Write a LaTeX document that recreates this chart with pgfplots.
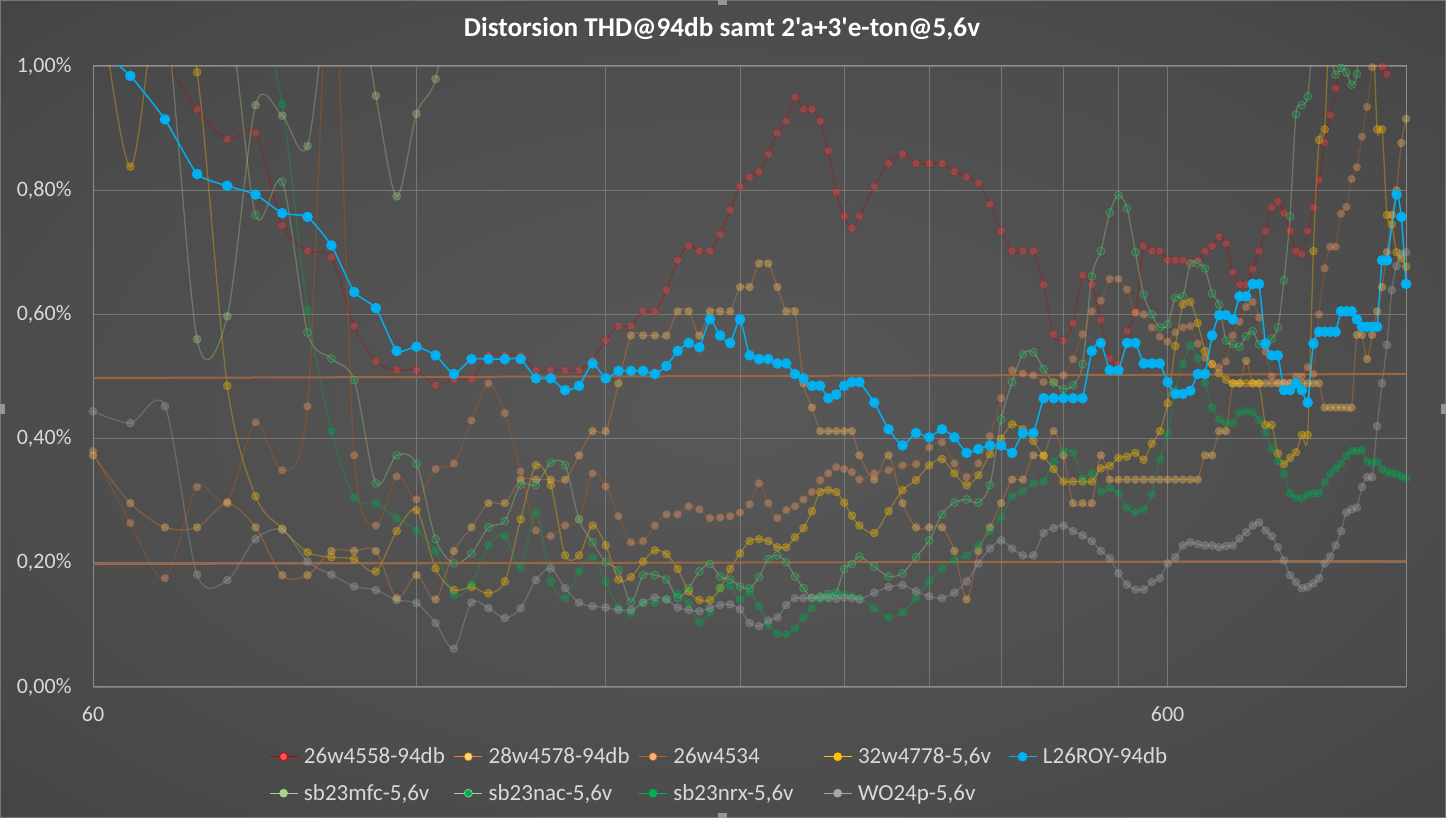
\documentclass[border=0pt]{standalone}
\usepackage{fontspec}
\setmainfont{Carlito}[Ligatures=TeXOff]
\usepackage{pgfplots}
\pgfplotsset{compat=1.18}

% background
\definecolor{bgA}{RGB}{88,88,88}
\definecolor{bgB}{RGB}{76,76,76}
\definecolor{bgC}{RGB}{61,61,61}
\definecolor{bgD}{RGB}{51,51,51}
\definecolor{bgE}{RGB}{38,38,38}
\pgfdeclareradialshading{chartbg}{\pgfpoint{0bp}{0bp}}{%
  color(0bp)=(bgA); color(25bp)=(bgB); color(46bp)=(bgC); color(57bp)=(bgD); color(72bp)=(bgE)}

\definecolor{gridc}{RGB}{118,118,118}
\definecolor{framec}{RGB}{140,140,140}
\definecolor{labelc}{RGB}{217,217,217}
\definecolor{trendc}{RGB}{155,102,66}
\definecolor{handlec}{RGB}{150,150,150}

% series colours (line, marker)
\definecolor{redL}{RGB}{192,0,0}      \definecolor{redM}{RGB}{255,80,80}
\definecolor{yelL}{RGB}{237,125,49}   \definecolor{yelM}{RGB}{255,217,102}
\definecolor{orgL}{RGB}{197,90,17}    \definecolor{orgM}{RGB}{244,177,131}
\definecolor{golL}{RGB}{255,192,0}    \definecolor{golM}{RGB}{255,192,0}
\definecolor{blueL}{RGB}{0,176,240}
\definecolor{mfcL}{RGB}{169,209,142}  \definecolor{mfcM}{RGB}{169,209,142}
\definecolor{nacL}{RGB}{169,209,142}  \definecolor{nacM}{RGB}{0,176,80}
\definecolor{nrxL}{RGB}{0,176,80}     \definecolor{nrxM}{RGB}{0,176,80}
\definecolor{woL}{RGB}{166,166,166}   \definecolor{woM}{RGB}{166,166,166}

\pgfplotsset{
  faded/.style 2 args={draw=#1, line width=1.3pt, smooth, tension=0.5,
    mark=*, mark size=4pt, mark options={fill=#2, draw=#1, line width=0.6pt, solid},
    opacity=0.33},
  roy/.style={draw=blueL, line width=1.5pt, smooth, tension=0.3,
    mark=*, mark size=4.5pt, mark options={fill=blueL, draw=blueL}},
}

\begin{document}
\begin{tikzpicture}[x=1pt,y=1pt]
\useasboundingbox (0,0) rectangle (1446,818);
\shade[shading=chartbg] (0,0) rectangle (1446,818);
\draw[draw=gridc, line width=1pt] (0.5,0.5) rectangle (1445.5,817.5);
\fill[handlec] (0,404) rectangle (5,414);
\fill[handlec] (1441,404) rectangle (1446,414);
\fill[handlec] (718,813) rectangle (727,818);
\fill[handlec] (718,0) rectangle (727,5);

\node[font=\fontsize{27.2}{31}\selectfont\bfseries, text=white] at (722,789)
  {Distorsion THD@94db samt 2'a+3'e-ton@5,6v};

\begin{axis}[
  at={(93pt,131pt)}, anchor=south west,
  scale only axis, width=1313pt, height=621pt,
  xmode=log, xmin=60, xmax=1000, ymin=0, ymax=1,
  xtick={60,600}, xticklabels={60,600},
  minor xtick={120,180,240,300,360,420,480,540},
  ytick={0,0.2,0.4,0.6,0.8,1.0},
  yticklabel={\pgfmathprintnumber[fixed,fixed zerofill,precision=2,use comma]{\tick}\%},
  /pgf/number format/assume math mode=true,
  xmajorgrids, xminorgrids, ymajorgrids,
  grid style={draw=gridc, line width=0.9pt},
  minor grid style={draw=gridc, line width=0.9pt},
  major grid style={draw=gridc, line width=0.9pt},
  axis line style={draw=framec, line width=1pt},
  major tick length=0pt, minor tick length=0pt,
  tick style={draw=none},
  ticklabel style={font=\fontsize{22}{24}\selectfont, text=labelc},
  yticklabel style={xshift=-18pt},
  xticklabel style={yshift=-16pt},
  legend columns=5,
  legend cell align=left,
  legend style={at={(0.1340,-0.0934)}, anchor=north west, draw=none, fill=none,
    text=labelc, font=\fontsize{23}{26}\selectfont, inner sep=0pt, outer sep=0pt,
    nodes={inner xsep=0pt, inner ysep=3pt}, row sep=13pt},
  legend image code/.code={\draw[mark repeat=2, mark phase=2, #1]
    plot coordinates {(0pt,0pt) (14pt,0pt) (28pt,0pt)};},
  legend image post style={opacity=1, mark size=4pt, smooth=false},
]

% 26w4558-94db
\addplot[faded={redL}{redM}] coordinates {
(60,1.30)(65,1.20)(70,1.02)(75,0.930)(80,0.882)(85,0.892)(90,0.743)(95,0.702)(100,0.692)(105,0.581)
(110,0.524)(115,0.510)(120,0.510)(125,0.486)(130,0.496)(135,0.496)(140,0.534)(145,0.534)(150,0.534)
(155,0.510)(160,0.510)(165,0.510)(170,0.510)(175,0.527)(180,0.558)(185,0.581)(190,0.581)(195,0.605)
(200,0.605)(205,0.639)(210,0.687)(215,0.710)(220,0.702)(225,0.702)(230,0.729)(235,0.768)(240,0.806)
(245,0.821)(250,0.830)(255,0.858)(260,0.892)(265,0.911)(270,0.950)(275,0.930)(280,0.930)(285,0.911)
(290,0.863)(295,0.797)(300,0.758)(305,0.739)(310,0.758)(320,0.806)(330,0.843)(340,0.858)(350,0.843)
(360,0.843)(370,0.843)(380,0.830)(390,0.821)(400,0.811)(410,0.777)(420,0.734)(430,0.702)(440,0.702)
(450,0.702)(460,0.648)(470,0.568)(480,0.558)(490,0.586)(500,0.663)(510,0.648)(520,0.591)(530,0.529)
(540,0.520)(550,0.573)(560,0.603)(570,0.710)(580,0.702)(590,0.702)(600,0.687)(610,0.687)(620,0.687)
(630,0.683)(640,0.687)(650,0.702)(660,0.710)(670,0.725)(680,0.714)(690,0.668)(700,0.648)(710,0.648)
(720,0.673)(730,0.702)(740,0.734)(750,0.772)(760,0.782)(770,0.763)(780,0.734)(790,0.702)(800,0.697)
(810,0.734)(820,0.772)(830,0.816)(840,0.877)(850,0.921)(860,0.964)(870,1.05)(880,1.10)(890,1.10)
(900,1.10)(910,1.10)(920,1.10)(930,1.05)(940,1.02)(950,0.999)(960,0.987)(970,1.05)(980,1.10)
(990,1.10)(1000,1.10)};
\addlegendentry{\makebox[155.4pt][l]{\hspace{5.7pt}26w4558-94db}}

% 28w4578-94db
\addplot[faded={yelL}{yelM}] coordinates {
(60,0.373)(65,0.296)(70,0.257)(75,0.257)(80,0.296)(85,0.257)(90,0.180)(95,0.180)(100,0.219)(105,0.219)
(110,0.219)(115,0.143)(120,0.180)(125,0.141)(130,0.219)(135,0.257)(140,0.296)(145,0.296)(150,0.334)
(155,0.334)(160,0.334)(165,0.334)(170,0.373)(175,0.412)(180,0.412)(185,0.489)(190,0.566)(195,0.566)
(200,0.566)(205,0.566)(210,0.605)(215,0.605)(220,0.566)(225,0.605)(230,0.605)(235,0.605)(240,0.644)
(245,0.644)(250,0.682)(255,0.682)(260,0.644)(265,0.605)(270,0.605)(275,0.489)(280,0.450)(285,0.412)
(290,0.412)(295,0.412)(300,0.412)(305,0.412)(310,0.373)(320,0.334)(330,0.373)(340,0.296)(350,0.257)
(360,0.257)(370,0.257)(380,0.219)(390,0.141)(400,0.219)(410,0.257)(420,0.296)(430,0.334)(440,0.334)
(450,0.373)(460,0.373)(470,0.412)(480,0.373)(490,0.296)(500,0.296)(510,0.296)(520,0.373)(530,0.334)
(540,0.334)(550,0.334)(560,0.334)(570,0.334)(580,0.334)(590,0.334)(600,0.334)(610,0.334)(620,0.334)
(630,0.334)(640,0.334)(650,0.373)(660,0.373)(670,0.412)(680,0.412)(690,0.489)(700,0.489)(710,0.525)
(720,0.489)(730,0.489)(740,0.489)(750,0.489)(760,0.489)(770,0.489)(780,0.489)(790,0.489)(800,0.489)
(810,0.489)(820,0.489)(830,0.489)(840,0.450)(850,0.450)(860,0.450)(870,0.450)(880,0.450)(890,0.450)
(900,0.567)(910,0.567)(920,0.528)(930,0.567)(940,0.605)(950,0.644)(960,0.700)(970,0.760)(980,0.800)
(990,0.876)(1000,0.915)};
\addlegendentry{\makebox[155.4pt][l]{\hspace{5.7pt}28w4578-94db}}

% 26w4534
\addplot[faded={orgL}{orgM}] coordinates {
(60,0.380)(65,0.264)(70,0.175)(75,0.322)(80,0.298)(85,0.426)(90,0.349)(95,0.452)(100,1.20)(105,0.373)
(110,0.260)(115,0.339)(120,0.302)(125,0.351)(130,0.360)(135,0.429)(140,0.489)(145,0.441)(150,0.347)
(155,0.252)(160,0.243)(165,0.260)(170,0.270)(175,0.344)(180,0.323)(185,0.275)(190,0.233)(195,0.235)
(200,0.260)(205,0.278)(210,0.278)(215,0.291)(220,0.286)(225,0.272)(230,0.273)(235,0.275)(240,0.281)
(245,0.294)(250,0.328)(255,0.296)(260,0.272)(265,0.285)(270,0.291)(275,0.302)(280,0.314)(285,0.333)
(290,0.344)(295,0.354)(300,0.351)(305,0.346)(310,0.334)(320,0.344)(330,0.349)(340,0.357)(350,0.359)
(360,0.386)(370,0.394)(380,0.360)(390,0.338)(400,0.360)(410,0.404)(420,0.465)(430,0.510)(440,0.505)
(450,0.502)(460,0.491)(470,0.491)(480,0.502)(490,0.528)(500,0.568)(510,0.605)(520,0.622)(530,0.657)
(540,0.657)(550,0.640)(560,0.603)(570,0.600)(580,0.579)(590,0.564)(600,0.556)(610,0.571)(620,0.579)
(630,0.581)(640,0.553)(650,0.530)(660,0.520)(670,0.515)(680,0.524)(690,0.566)(700,0.588)(710,0.612)
(720,0.620)(730,0.595)(740,0.540)(750,0.500)(760,0.490)(770,0.490)(780,0.490)(790,0.500)(800,0.500)
(810,0.515)(820,0.504)(830,0.600)(840,0.674)(850,0.709)(860,0.709)(870,0.762)(880,0.773)(890,0.818)
(900,0.837)(910,0.886)(920,0.934)(930,0.998)(940,1.10)(950,1.10)(960,1.10)(970,1.10)(980,1.10)
(990,1.10)(1000,1.10)};
\addlegendentry{\makebox[155.4pt][l]{\hspace{5.7pt}26w4534}}

% 32w4778-5,6v
\addplot[faded={golL}{golM}] coordinates {
(60,1.20)(65,0.838)(70,1.20)(75,0.990)(80,0.485)(85,0.307)(90,0.255)(95,0.217)(100,0.209)(105,0.206)
(110,0.186)(115,0.251)(120,0.285)(125,0.191)(130,0.156)(135,0.161)(140,0.151)(145,0.170)(150,0.270)
(155,0.357)(160,0.325)(165,0.212)(170,0.212)(175,0.260)(180,0.228)(185,0.173)(190,0.177)(195,0.202)
(200,0.220)(205,0.214)(210,0.190)(215,0.154)(220,0.140)(225,0.140)(230,0.159)(235,0.190)(240,0.215)
(245,0.235)(250,0.238)(255,0.235)(260,0.225)(265,0.225)(270,0.241)(275,0.256)(280,0.283)(285,0.314)
(290,0.317)(295,0.314)(300,0.297)(305,0.276)(310,0.260)(320,0.248)(330,0.283)(340,0.317)(350,0.333)
(360,0.357)(370,0.367)(380,0.344)(390,0.325)(400,0.341)(410,0.375)(420,0.400)(430,0.423)(440,0.415)
(450,0.396)(460,0.372)(470,0.351)(480,0.331)(490,0.331)(500,0.331)(510,0.331)(520,0.352)(530,0.356)
(540,0.369)(550,0.371)(560,0.377)(570,0.366)(580,0.392)(590,0.412)(600,0.457)(610,0.549)(620,0.616)
(630,0.620)(640,0.586)(650,0.541)(660,0.520)(670,0.505)(680,0.495)(690,0.489)(700,0.489)(710,0.489)
(720,0.489)(730,0.489)(740,0.422)(750,0.422)(760,0.376)(770,0.359)(780,0.369)(790,0.378)(800,0.406)
(810,0.406)(820,0.702)(830,0.881)(840,0.898)(850,1.10)(860,1.10)(870,1.10)(880,1.10)(890,1.10)
(900,1.10)(910,1.10)(920,1.10)(930,1.10)(940,0.898)(950,0.898)(960,0.760)(970,0.745)(980,0.700)
(990,0.690)(1000,0.677)};
\addlegendentry{\makebox[155.4pt][l]{\hspace{5.7pt}32w4778-5,6v}}

% L26ROY-94db (legend only here, drawn on top below)
\addlegendimage{roy}
\addlegendentry{\makebox[155.4pt][l]{\hspace{5.7pt}L26ROY-94db}}

% sb23mfc-5,6v
\addplot[faded={mfcL}{mfcM}] coordinates {
(60,1.30)(65,1.30)(70,1.10)(75,0.560)(80,0.597)(85,0.937)(90,0.920)(95,0.871)(100,1.15)(105,1.15)
(110,0.952)(115,0.790)(120,0.923)(125,0.979)(130,1.15)(135,1.30)};
\addlegendentry{\makebox[155.4pt][l]{\hspace{5.7pt}sb23mfc-5,6v}}

% sb23nac-5,6v
\addplot[faded={nacL}{nacM}] coordinates {
(60,1.30)(65,1.30)(70,1.20)(75,1.10)(80,1.10)(85,0.760)(90,0.814)(95,0.571)(100,0.529)(105,0.494)
(110,0.328)(115,0.373)(120,0.359)(125,0.238)(130,0.199)(135,0.215)(140,0.257)(145,0.267)(150,0.326)
(155,0.325)(160,0.361)(165,0.357)(170,0.270)(175,0.233)(180,0.201)(185,0.188)(190,0.137)(195,0.180)
(200,0.180)(205,0.173)(210,0.144)(215,0.159)(220,0.186)(225,0.198)(230,0.178)(235,0.173)(240,0.162)
(245,0.159)(250,0.177)(255,0.206)(260,0.212)(265,0.201)(270,0.178)(275,0.159)(280,0.143)(285,0.146)
(290,0.150)(295,0.152)(300,0.190)(305,0.198)(310,0.210)(320,0.194)(330,0.178)(340,0.183)(350,0.209)
(360,0.236)(370,0.278)(380,0.297)(390,0.302)(400,0.297)(410,0.325)(420,0.431)(430,0.491)(440,0.536)
(450,0.539)(460,0.512)(470,0.490)(480,0.480)(490,0.486)(500,0.520)(510,0.661)(520,0.702)(530,0.764)
(540,0.792)(550,0.771)(560,0.700)(570,0.632)(580,0.600)(590,0.579)(600,0.584)(610,0.627)(620,0.629)
(630,0.682)(640,0.682)(650,0.674)(660,0.634)(670,0.616)(680,0.558)(690,0.552)(700,0.548)(710,0.565)
(720,0.573)(730,0.552)(740,0.550)(750,0.561)(760,0.579)(770,0.655)(780,0.758)(790,0.922)(800,0.937)
(810,0.951)(820,1.05)(830,1.10)(840,1.05)(850,1.02)(860,0.986)(870,0.997)(880,0.990)(890,0.970)
(900,0.987)(910,1.10)(920,1.10)(930,1.10)(940,1.10)(950,1.10)(960,1.10)(970,1.10)(980,1.10)
(990,1.10)(1000,1.10)};
\addlegendentry{\makebox[155.4pt][l]{\hspace{5.7pt}sb23nac-5,6v}}

% sb23nrx-5,6v
\addplot[faded={nrxL}{nrxM}] coordinates {
(60,1.30)(65,1.30)(70,1.30)(75,1.20)(80,1.20)(85,1.10)(90,0.938)(95,0.607)(100,0.412)(105,0.305)
(110,0.296)(115,0.272)(120,0.252)(125,0.219)(130,0.148)(135,0.166)(140,0.228)(145,0.243)(150,0.192)
(155,0.281)(160,0.170)(165,0.143)(170,0.186)(175,0.209)(180,0.170)(185,0.128)(190,0.119)(195,0.135)
(200,0.135)(205,0.141)(210,0.150)(215,0.135)(220,0.104)(225,0.120)(230,0.160)(235,0.162)(240,0.141)
(245,0.152)(250,0.130)(255,0.100)(260,0.086)(265,0.085)(270,0.094)(275,0.112)(280,0.127)(285,0.141)
(290,0.145)(295,0.148)(300,0.149)(305,0.146)(310,0.143)(320,0.127)(330,0.112)(340,0.120)(350,0.143)
(360,0.170)(370,0.191)(380,0.204)(390,0.212)(400,0.228)(410,0.251)(420,0.273)(430,0.307)(440,0.315)
(450,0.328)(460,0.331)(470,0.363)(480,0.380)(490,0.377)(500,0.336)(510,0.344)(520,0.315)(530,0.320)
(540,0.312)(550,0.289)(560,0.281)(570,0.286)(580,0.310)(590,0.367)(600,0.408)(610,0.478)(620,0.520)
(630,0.550)(640,0.530)(650,0.489)(660,0.450)(670,0.431)(680,0.425)(690,0.425)(700,0.441)(710,0.444)
(720,0.442)(730,0.430)(740,0.410)(750,0.384)(760,0.364)(770,0.343)(780,0.312)(790,0.305)(800,0.304)
(810,0.310)(820,0.312)(830,0.312)(840,0.330)(850,0.343)(860,0.352)(870,0.360)(880,0.372)(890,0.380)
(900,0.380)(910,0.382)(920,0.364)(930,0.360)(940,0.363)(950,0.351)(960,0.346)(970,0.344)(980,0.343)
(990,0.339)(1000,0.336)};
\addlegendentry{\makebox[155.4pt][l]{\hspace{5.7pt}sb23nrx-5,6v}}

% WO24p-5,6v
\addplot[faded={woL}{woM}] coordinates {
(60,0.444)(65,0.425)(70,0.452)(75,0.181)(80,0.172)(85,0.238)(90,0.253)(95,0.202)(100,0.181)(105,0.162)
(110,0.156)(115,0.140)(120,0.135)(125,0.103)(130,0.062)(135,0.136)(140,0.127)(145,0.111)(150,0.127)
(155,0.172)(160,0.191)(165,0.159)(170,0.136)(175,0.130)(180,0.128)(185,0.124)(190,0.124)(195,0.136)
(200,0.144)(205,0.141)(210,0.128)(215,0.124)(220,0.122)(225,0.127)(230,0.132)(235,0.133)(240,0.125)
(245,0.103)(250,0.098)(255,0.107)(260,0.112)(265,0.132)(270,0.143)(275,0.143)(280,0.144)(285,0.144)
(290,0.143)(295,0.142)(300,0.144)(305,0.143)(310,0.141)(320,0.152)(330,0.161)(340,0.164)(350,0.154)
(360,0.146)(370,0.143)(380,0.152)(390,0.170)(400,0.199)(410,0.223)(420,0.236)(430,0.223)(440,0.212)
(450,0.212)(460,0.248)(470,0.256)(480,0.260)(490,0.251)(500,0.244)(510,0.235)(520,0.219)(530,0.207)
(540,0.183)(550,0.165)(560,0.157)(570,0.157)(580,0.169)(590,0.175)(600,0.199)(610,0.209)(620,0.228)
(630,0.233)(640,0.230)(650,0.228)(660,0.228)(670,0.225)(680,0.227)(690,0.228)(700,0.239)(710,0.249)
(720,0.260)(730,0.265)(740,0.252)(750,0.243)(760,0.225)(770,0.204)(780,0.180)(790,0.169)(800,0.159)
(810,0.161)(820,0.167)(830,0.175)(840,0.199)(850,0.210)(860,0.228)(870,0.251)(880,0.281)(890,0.286)
(900,0.289)(910,0.322)(920,0.338)(930,0.338)(940,0.420)(950,0.489)(960,0.551)(970,0.639)(980,0.678)
(990,0.697)(1000,0.700)};
\addlegendentry{\makebox[155.4pt][l]{\hspace{5.7pt}WO24p-5,6v}}

% trend lines
\addplot[draw=trendc, line width=2pt, forget plot] coordinates {(60,0.4976)(1000,0.504)};
\addplot[draw=trendc, line width=2pt, forget plot] coordinates {(60,0.198)(1000,0.203)};

% L26ROY-94db on top
\addplot[roy, forget plot] coordinates {
(60,1.035)(65,0.984)(70,0.914)(75,0.826)(80,0.807)(85,0.793)(90,0.763)(95,0.757)(100,0.711)(105,0.636)
(110,0.610)(115,0.541)(120,0.548)(125,0.534)(130,0.504)(135,0.528)(140,0.528)(145,0.528)(150,0.528)
(155,0.497)(160,0.497)(165,0.478)(170,0.485)(175,0.521)(180,0.497)(185,0.509)(190,0.509)(195,0.509)
(200,0.504)(205,0.517)(210,0.541)(215,0.554)(220,0.547)(225,0.592)(230,0.566)(235,0.554)(240,0.592)
(245,0.534)(250,0.528)(255,0.528)(260,0.521)(265,0.521)(270,0.504)(275,0.497)(280,0.485)(285,0.485)
(290,0.465)(295,0.471)(300,0.485)(305,0.491)(310,0.491)(320,0.458)(330,0.415)(340,0.389)(350,0.409)
(360,0.402)(370,0.415)(380,0.402)(390,0.377)(400,0.383)(410,0.389)(420,0.389)(430,0.377)(440,0.409)
(450,0.409)(460,0.465)(470,0.465)(480,0.465)(490,0.465)(500,0.465)(510,0.541)(520,0.554)(530,0.510)
(540,0.510)(550,0.554)(560,0.554)(570,0.521)(580,0.521)(590,0.521)(600,0.491)(610,0.472)(620,0.472)
(630,0.477)(640,0.504)(650,0.504)(660,0.566)(670,0.599)(680,0.599)(690,0.592)(700,0.629)(710,0.629)
(720,0.649)(730,0.649)(740,0.553)(750,0.534)(760,0.534)(770,0.478)(780,0.478)(790,0.489)(800,0.478)
(810,0.458)(820,0.553)(830,0.572)(840,0.572)(850,0.572)(860,0.572)(870,0.605)(880,0.605)(890,0.605)
(900,0.592)(910,0.580)(920,0.580)(930,0.580)(940,0.580)(950,0.687)(960,0.687)(980,0.793)(990,0.757)
(1000,0.649)};
\end{axis}
\end{tikzpicture}
\end{document}
